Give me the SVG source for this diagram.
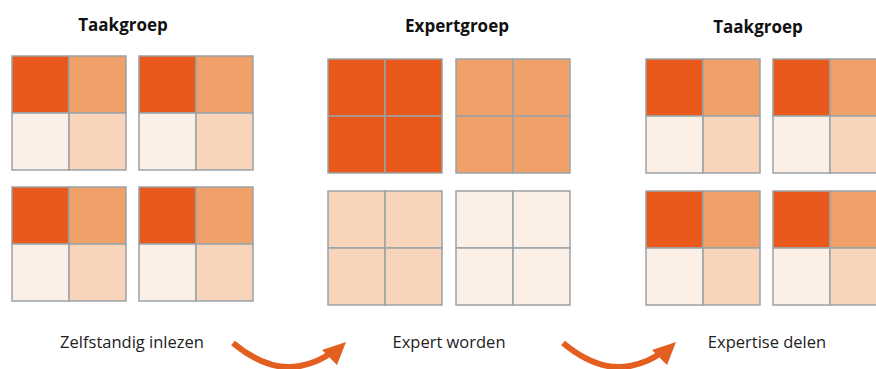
<svg xmlns="http://www.w3.org/2000/svg" width="876" height="369" viewBox="0 0 876 369">
<style>
.c{stroke:#9aa3a6;stroke-width:1.5}
.d{fill:#e8591b}
.m{fill:#f0a069}
.l{fill:#f8d4ba}
.v{fill:#fcefe5}
.t{font-family:"Open Sans","Liberation Sans",sans-serif;font-weight:700;font-size:17px;fill:#111;text-anchor:middle}
.s{font-family:"Open Sans","Liberation Sans",sans-serif;font-size:16.5px;fill:#222;text-anchor:middle}
.a{fill:none;stroke:#e35f1f;stroke-width:6;stroke-linecap:butt}
.h{fill:#e35f1f}
</style>
<defs>
<g id="mix">
<rect class="c d" x="0" y="0" width="57" height="57"/>
<rect class="c m" x="57" y="0" width="57" height="57"/>
<rect class="c v" x="0" y="57" width="57" height="57"/>
<rect class="c l" x="57" y="57" width="57" height="57"/>
</g>
<g id="gd"><rect class="c d" x="0" y="0" width="57" height="57"/><rect class="c d" x="57" y="0" width="57" height="57"/><rect class="c d" x="0" y="57" width="57" height="57"/><rect class="c d" x="57" y="57" width="57" height="57"/></g>
<g id="gm"><rect class="c m" x="0" y="0" width="57" height="57"/><rect class="c m" x="57" y="0" width="57" height="57"/><rect class="c m" x="0" y="57" width="57" height="57"/><rect class="c m" x="57" y="57" width="57" height="57"/></g>
<g id="gl"><rect class="c l" x="0" y="0" width="57" height="57"/><rect class="c l" x="57" y="0" width="57" height="57"/><rect class="c l" x="0" y="57" width="57" height="57"/><rect class="c l" x="57" y="57" width="57" height="57"/></g>
<g id="gv"><rect class="c v" x="0" y="0" width="57" height="57"/><rect class="c v" x="57" y="0" width="57" height="57"/><rect class="c v" x="0" y="57" width="57" height="57"/><rect class="c v" x="57" y="57" width="57" height="57"/></g>
</defs>
<rect width="876" height="369" fill="#fff"/>
<g id="taakgroep1">
<text class="t" x="123" y="31">Taakgroep</text>
<use href="#mix" x="12" y="56"/>
<use href="#mix" x="139" y="56"/>
<use href="#mix" x="12" y="187"/>
<use href="#mix" x="139" y="187"/>
<text class="s" x="132" y="348">Zelfstandig inlezen</text>
</g>
<g id="expertgroep">
<text class="t" x="457" y="32">Expertgroep</text>
<use href="#gd" x="328" y="59"/>
<use href="#gm" x="456" y="59"/>
<use href="#gl" x="328" y="191"/>
<use href="#gv" x="456" y="191"/>
<text class="s" x="449" y="348">Expert worden</text>
</g>
<g id="taakgroep2">
<text class="t" x="758" y="33">Taakgroep</text>
<use href="#mix" x="646" y="59"/>
<use href="#mix" x="773" y="59"/>
<use href="#mix" x="646" y="191"/>
<use href="#mix" x="773" y="191"/>
<text class="s" x="767" y="348">Expertise delen</text>
</g>
<g id="connectors">
<path class="a" d="M233,343 Q268,372 300,366 Q320,362 333,351"/>
<polygon class="h" points="346,342 322,350 337,365"/>
<path class="a" d="M563,343 Q598,372 630,366 Q650,362 663,351"/>
<polygon class="h" points="676,342 652,350 667,365"/>
</g>
</svg>
